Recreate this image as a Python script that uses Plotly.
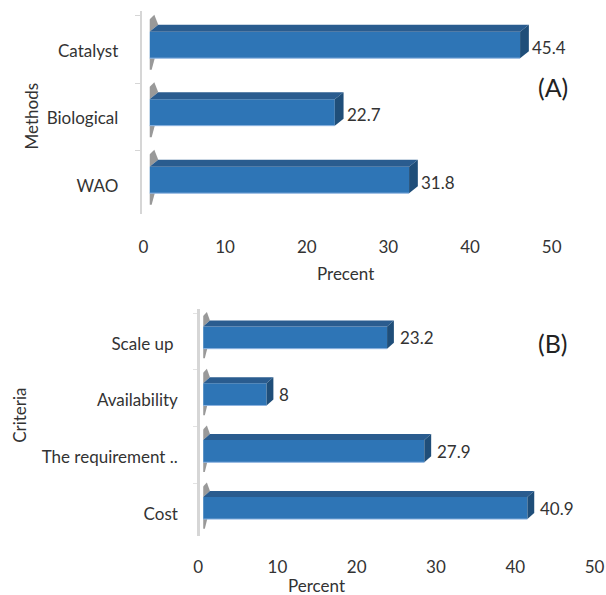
import plotly.graph_objects as go

# ---- data ----
methods = ["WAO", "Biological", "Catalyst"]
methods_pct = [31.8, 22.7, 45.4]
criteria = ["Cost", "The requirement ..", "Availability", "Scale up "]
criteria_pct = [40.9, 27.9, 8, 23.2]
x_ticks = [0, 10, 20, 30, 40, 50]

FRONT = "#2E75B6"
TOP = "#2A5C8F"
SIDE = "#1F4E79"
EDGE = "#8DB3E0"
SHADOW = "rgba(70,70,70,0.55)"
FONT = "Lato"
TXT = "#333333"
W = 0.39
FW, FH = 606, 595


def fx(px):
    return px / FW


def fy(py):
    return 1 - py / FH


fig = go.Figure()


def add_panel(vals, xa, ya, dx, dy, lab_dx, lab_dy):
    ys = list(range(len(vals)))
    fig.add_trace(go.Bar(x=vals, y=ys, orientation="h", width=W,
                         marker=dict(color=FRONT, line=dict(width=0)),
                         xaxis=xa, yaxis=ya, showlegend=False, hoverinfo="skip"))
    for y, v in zip(ys, vals):
        yt, yb = y + W / 2, y - W / 2
        # shadow wedges on the wall at the bar start
        fig.add_shape(type="path", xref=xa, yref=ya,
                      path=(f"M 0,{yt} L 0,{yt + dy + 0.08} L {dx * 0.55},{yt + dy + 0.15} "
                            f"L {dx},{yt + dy} Z"),
                      fillcolor=SHADOW, line=dict(width=0), layer="below")
        fig.add_shape(type="path", xref=xa, yref=ya,
                      path=(f"M 0,{yb} L {dx * 0.6},{yb} L {dx * 0.25},{yb - 0.17} "
                            f"L 0,{yb - 0.17} Z"),
                      fillcolor=SHADOW, line=dict(width=0), layer="below")
        # top face
        fig.add_shape(type="path", xref=xa, yref=ya,
                      path=f"M 0,{yt} L {v},{yt} L {v + dx},{yt + dy} L {dx},{yt + dy} Z",
                      fillcolor=TOP, line=dict(width=0))
        # side face
        fig.add_shape(type="path", xref=xa, yref=ya,
                      path=f"M {v},{yb} L {v},{yt} L {v + dx},{yt + dy} L {v + dx},{yb + dy} Z",
                      fillcolor=SIDE, line=dict(width=0))
        # light bottom edge of the front face
        fig.add_shape(type="line", xref=xa, yref=ya, x0=0, x1=v, y0=yb, y1=yb,
                      line=dict(color=EDGE, width=1))
        fig.add_annotation(x=v + dx, y=y, xref=xa, yref=ya, text=f"{v:g}",
                           showarrow=False, xanchor="left", yanchor="middle",
                           xshift=lab_dx, yshift=lab_dy,
                           font=dict(family=FONT, size=17, color=TXT))


# depth offsets: A ~9px x 7px, B ~7px x 6px (converted into data units)
add_panel(methods_pct, "x", "y", 9 / 8.37, 7 / 67.5, 1, -2)
add_panel(criteria_pct, "x2", "y2", 7 / 8.13, 6 / 56.8, 4, 0)

axis_common = dict(showgrid=False, zeroline=False, fixedrange=True)
tickfont = dict(family=FONT, size=17, color=TXT)
fig.update_layout(
    width=FW, height=FH,
    margin=dict(l=0, r=0, t=0, b=0),
    paper_bgcolor="white", plot_bgcolor="rgba(0,0,0,0)",
    font=dict(family=FONT, size=17, color=TXT),
    xaxis=dict(domain=[fx(142), fx(560.5)], range=[0, 50], tickvals=x_ticks,
               anchor="free", position=fy(235), showline=False, ticks="",
               ticklabelshift=-6, tickfont=tickfont, **axis_common),
    yaxis=dict(domain=[fy(213.75), fy(11.25)], range=[-0.5, 2.5],
               tickvals=list(range(len(methods))), ticktext=methods,
               anchor="free", position=fx(133), showline=True, linecolor="#D6D6D6",
               linewidth=2, ticks="", ticklabelstandoff=18, ticklabelshift=6,
               tickfont=tickfont,
               minor=dict(tickvals=[-0.57, 0.43, 1.43, 2.43], ticks="outside",
                          ticklen=5, tickcolor="#D6D6D6", tickwidth=1),
               **axis_common),
    xaxis2=dict(domain=[fx(197), fx(603.5)], range=[0, 50], tickvals=x_ticks,
                anchor="free", position=fy(555), showline=False, ticks="",
                ticklabelshift=-5, tickfont=tickfont, **axis_common),
    yaxis2=dict(domain=[fy(536.4), fy(309.2)], range=[-0.5, 3.5],
                tickvals=list(range(len(criteria))), ticktext=criteria,
                anchor="free", position=fx(192), showline=True, linecolor="#D6D6D6",
                linewidth=3, ticks="", ticklabelstandoff=16, ticklabelshift=6,
                tickfont=tickfont,
                minor=dict(tickvals=[-0.57, 0.43, 1.43, 2.43, 3.43], ticks="outside",
                           ticklen=4, tickcolor="#E2E2E2", tickwidth=1),
                **axis_common),
)


def tag(x, y, text, size=17, angle=0, color=TXT):
    fig.add_annotation(x=fx(x), y=fy(y), xref="paper", yref="paper", text=text,
                       textangle=angle, showarrow=False, xanchor="center", yanchor="middle",
                       font=dict(family=FONT, size=size, color=color))


tag(343, 274, "Precent")
tag(313, 585, "Percent")
tag(22, 116, "Methods", angle=-90)
tag(8, 415, "Criteria", angle=-90)
tag(556, 87, "(A)", size=25, color="#222222")
tag(556, 343, "(B)", size=25, color="#222222")

fig.write_html("out.html", config={"displayModeBar": False},
               post_script="document.body.style.margin='0';document.body.style.overflow='hidden';")
